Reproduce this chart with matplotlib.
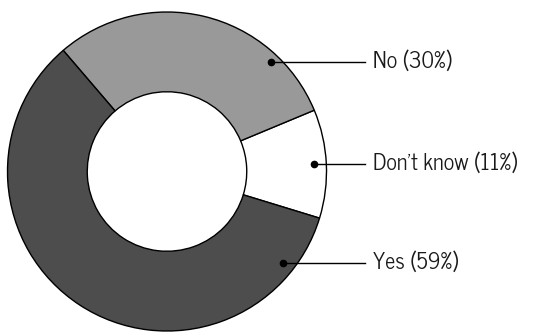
import matplotlib
matplotlib.use("Agg")
import matplotlib.pyplot as plt

labels = ["Don\u2019t know", "No", "Yes"]
shares = [11, 30, 59]
colors = ["#ffffff", "#999999", "#4d4d4d"]

# callout anchors, in pixels from the top-left corner
dot_x = [314, 271, 283]
label_rows = [164, 62, 263]

W, H = 535, 334
fig = plt.figure(figsize=(W / 100, H / 100), dpi=100)
ax = fig.add_axes([0, 0, 1, 1])

cx, cy, r = 167, H - 171.5, 159.5
ax.pie(shares, colors=colors, startangle=-17, counterclock=True,
       radius=r, center=(cx, cy), frame=True,
       wedgeprops=dict(width=r * 0.5, edgecolor="black", linewidth=1))
ax.set_xlim(0, W)
ax.set_ylim(0, H)
ax.set_aspect("equal")
ax.axis("off")

line_end = 365
for lab, val, x, row in zip(labels, shares, dot_x, label_rows):
    y = H - row
    ax.plot([x, line_end], [y, y], color="black", lw=1)
    ax.plot(x, y, "o", color="black", ms=4.5)
    ax.text(line_end + 8, y, f"{lab} ({val}%)", family=["News Cycle", "DejaVu Sans"],
            fontsize=16, va="center", ha="left", color="#1a1a1a")

fig.savefig("out.png", dpi=100)
